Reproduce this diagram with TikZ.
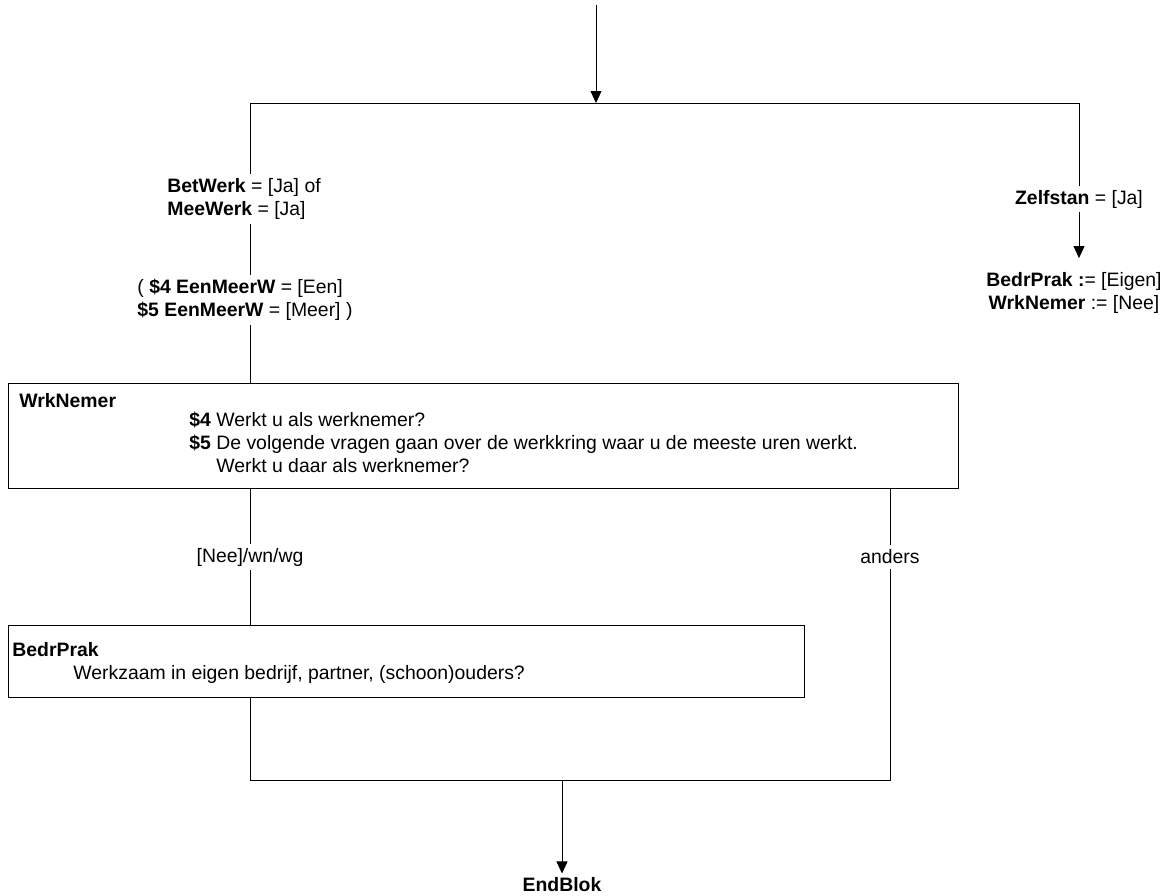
\documentclass[tikz,border=0pt]{standalone}
\usepackage{fontspec}
\setmainfont{Liberation Sans}
\usetikzlibrary{arrows.meta}

\begin{document}
\begin{tikzpicture}[x=1pt, y=-1pt, line width=0.8pt,
  lbl/.style={font=\fontsize{19.4}{23}\selectfont, inner xsep=0pt, inner ysep=4pt},
  qbox/.style={draw, anchor=north west, inner sep=0pt},
  arr/.style={-{Triangle[width=11pt,length=12pt]}}]

  \useasboundingbox (0,0) rectangle (1169,895);

  % start and split
  \coordinate (top) at (596,5);
  \coordinate (split) at (596,103);
  \coordinate (splitL) at (250,103);
  \coordinate (splitR) at (1079,103);

  \draw[arr] (top) -- (split);
  \draw (splitL) -- (splitR);

  % left branch conditions
  \node[lbl, anchor=west, align=left] (betwerk) at (167,199)
    {\textbf{BetWerk} = [Ja] of\\\textbf{MeeWerk} = [Ja]};
  \node[lbl, anchor=west, align=left] (eenmeer) at (137,300)
    {( \textbf{\$4 EenMeerW} = [Een]\\\textbf{\$5 EenMeerW} = [Meer] )};

  \draw (splitL) -- (splitL |- betwerk.north);
  \draw (betwerk.south -| splitL) -- (eenmeer.north -| splitL);

  % WrkNemer question
  \node[qbox, minimum width=950pt, minimum height=105pt] (wrknemer) at (8,383) {};
  \node[lbl, anchor=west] (wrknemertitle) at (19,401) {\textbf{WrkNemer}};
  \node[lbl, anchor=north west, align=left] (wrknemertext) at (189,408)
    {\textbf{\$4} Werkt u als werknemer?\\
     \textbf{\$5} De volgende vragen gaan over de werkkring waar u de meeste uren werkt.\\
     \hphantom{\textbf{\$5} }Werkt u daar als werknemer?};

  \draw (eenmeer.south -| splitL) -- (wrknemer.north -| splitL);

  % answers
  \node[lbl] (nee) at (250,557) {[Nee]/wn/wg};
  \node[lbl] (anders) at (890,557) {anders};

  \draw (wrknemer.south -| nee) -- (nee.north);
  \draw (wrknemer.south -| anders) -- (anders.north);

  % BedrPrak question
  \node[qbox, minimum width=796pt, minimum height=72pt] (bedrprak) at (8,625) {};
  \node[lbl, anchor=west] (bedrpraktitle) at (12,650) {\textbf{BedrPrak}};
  \node[lbl, anchor=west] (bedrpraktext) at (73,674) {Werkzaam in eigen bedrijf, partner, (schoon)ouders?};

  \draw (nee.south) -- (bedrprak.north -| nee);

  % join
  \coordinate (joinL) at (250,780);
  \coordinate (joinR) at (890,780);
  \coordinate (join) at (562,780);

  \draw (bedrprak.south -| joinL) -- (joinL) -- (joinR) -- (anders.south);

  \node[lbl, font=\fontsize{19.4}{23}\selectfont\bfseries] (endblok) at (562,885) {EndBlok};
  \draw[arr] (join) -- (endblok.north);

  % right branch
  \node[lbl] (zelfstan) at (1079,199) {\textbf{Zelfstan} = [Ja]};
  \node[lbl, align=center, inner ysep=14pt] (zelfassign) at (1074,293)
    {\textbf{BedrPrak :}= [Eigen]\\\textbf{WrkNemer} := [Nee]};

  \draw (splitR) -- (zelfstan.north);
  \draw[arr] (zelfstan.south) -- (zelfstan.south |- zelfassign.north);

\end{tikzpicture}
\end{document}
